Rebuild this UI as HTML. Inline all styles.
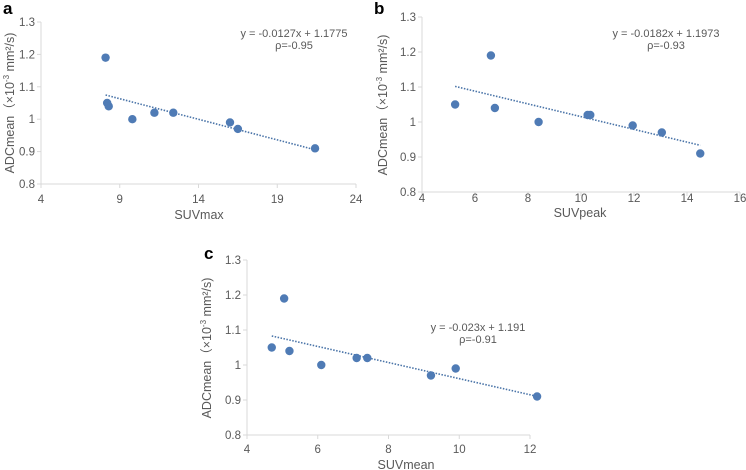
<!DOCTYPE html>
<html><head><meta charset="utf-8"><style>
html,body{margin:0;padding:0;background:#fff;}
svg{display:block;font-family:"Liberation Sans","Noto Sans CJK SC",sans-serif;}
</style></head><body>
<svg id="fig" width="746" height="470"></svg>
<script>
const aX=[8.1,8.2,8.3,9.8,11.2,12.4,16.0,16.5,21.4];
const aY=[1.19,1.05,1.04,1.0,1.02,1.02,0.99,0.97,0.91];
const bX=[5.25,6.6,6.75,8.4,10.25,10.35,11.95,13.05,14.5];
const bY=[1.05,1.19,1.04,1.0,1.02,1.02,0.99,0.97,0.91];
const cX=[4.7,5.05,5.2,6.1,7.1,7.4,9.2,9.9,12.2];
const cY=[1.05,1.19,1.04,1.0,1.02,1.02,0.97,0.99,0.91];
const aXTicks=[4,9,14,19,24];
const bXTicks=[4,6,8,10,12,14,16];
const cXTicks=[4,6,8,10,12];
const yTicks=[0.8,0.9,1,1.1,1.2,1.3];
const aFit=[-0.0127,1.1775], bFit=[-0.0182,1.1973], cFit=[-0.023,1.191];
const aEq=["y = -0.0127x + 1.1775","ρ=-0.95"];
const bEq=["y = -0.0182x + 1.1973","ρ=-0.93"];
const cEq=["y = -0.023x + 1.191","ρ=-0.91"];

const NS="http://www.w3.org/2000/svg";
const svg=document.getElementById('fig');
function mk(tag,attrs,parent,txt){const e=document.createElementNS(NS,tag);for(const k in attrs)e.setAttribute(k,attrs[k]);if(txt!==undefined)e.textContent=txt;(parent||svg).appendChild(e);return e;}

function panel(id,letter,lx,ly,x0,x1,y0,y1,xmin,xmax,xt,xs,ys,fit,eq,ex,ey,xlabel,xlx,xly,ytx,yty,tOff){
  const g=mk('g',{});
  
  
  const X=v=>x0+(v-xmin)/(xmax-xmin)*(x1-x0);
  const Y=v=>y1-(v-0.8)/(0.5)*(y1-y0);
  const L=mk('text',{x:lx,y:ly,'font-size':17,'font-weight':'bold',fill:'#000'},g,letter);
  
  
  const ya=mk('line',{x1:x0,y1:y0,x2:x0,y2:y1,stroke:'#d9d9d9','stroke-width':1},g);
  
  
  const xa=mk('line',{x1:x0,y1:y1,x2:x1,y2:y1,stroke:'#d9d9d9','stroke-width':1},g);
  
  
  yTicks.forEach(t=>{
    mk('line',{x1:x0-4,y1:Y(t),x2:x0,y2:Y(t),stroke:'#d9d9d9'},g);
    const e=mk('text',{x:x0-6,y:Y(t)+4,'font-size':11.5,fill:'#595959','text-anchor':'end'},g,String(t));
    
    
  });
  xt.forEach(t=>{
    mk('line',{x1:X(t),y1:y1,x2:X(t),y2:y1+4,stroke:'#d9d9d9'},g);
    const e=mk('text',{x:X(t),y:y1+tOff,'font-size':11.5,fill:'#595959','text-anchor':'middle'},g,String(t));
    
    
  });
  const xl=mk('text',{x:xlx,y:xly,'font-size':12.5,fill:'#595959','text-anchor':'middle'},g,xlabel);
  
  
  const yl=mk('text',{x:0,y:0,'font-size':12.5,fill:'#595959','text-anchor':'middle',transform:`translate(${ytx},${yty}) rotate(-90)`},g);
  
  
  yl.textContent='ADCmean（×10';
  mk('tspan',{'font-size':8,dy:-5},yl,'-3');
  mk('tspan',{dy:5},yl,' mm²/s)');
  const fx0=Math.min(...xs), fx1=Math.max(...xs);
  const tl=mk('line',{x1:X(fx0),y1:Y(fit[0]*fx0+fit[1]),x2:X(fx1),y2:Y(fit[0]*fx1+fit[1]),stroke:'#4a74a8','stroke-width':1.6,'stroke-dasharray':'1.5,1.5'},g);
  
  
  xs.forEach((v,i)=>{
    const c=mk('circle',{cx:X(v),cy:Y(ys[i]),r:4.2,fill:'#4f7bb5'},g);
    
    
  });
  const t1=mk('text',{x:ex,y:ey,'font-size':11,fill:'#595959','text-anchor':'middle'},g,eq[0]);
  
  
  const t2=mk('text',{x:ex,y:ey+12,'font-size':11,fill:'#595959','text-anchor':'middle'},g,eq[1]);
  
  
}
panel('a','a',3,14,41,356,22,184,4,24,aXTicks,aX,aY,aFit,aEq,294,37,'SUVmax',199,219,14,103,19);
panel('b','b',374,14,422,740,17,192,4,16,bXTicks,bX,bY,bFit,bEq,666,37,'SUVpeak',580,217,387,105,10);
panel('c','c',204,259,247,530,260,435,4,12,cXTicks,cX,cY,cFit,cEq,478,331,'SUVmean',406,469,211,348,18);
</script>
</body></html>
